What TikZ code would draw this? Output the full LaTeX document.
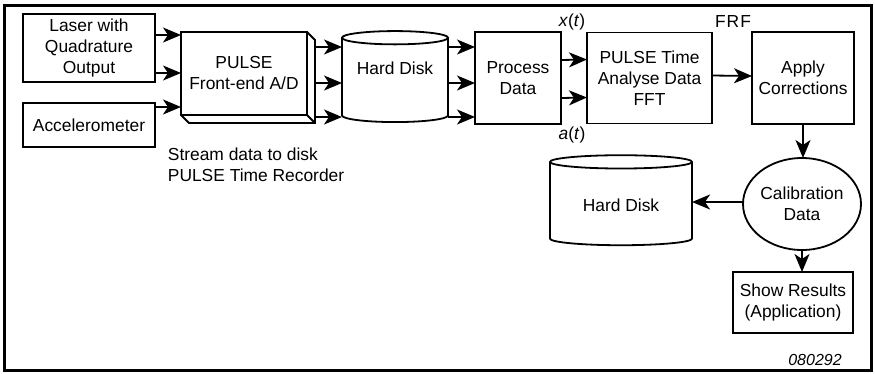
\documentclass[tikz,border=0pt]{standalone}
\usepackage{fontspec}
\setmainfont{Liberation Sans}
\usetikzlibrary{shapes.geometric,arrows.meta}

\begin{document}
\begin{tikzpicture}[x=1pt,y=-1pt,node distance=100pt,line width=1.8pt,
        flow/.style={-{Stealth[length=18pt,width=15pt,inset=5pt]}},
        main node/.style={rectangle,draw,align=center,outer sep=0pt,font=\fontsize{17.4}{21}\selectfont},
        disk node/.style={cylinder,shape border rotate=90,draw,aspect=0.16,outer sep=0pt,align=center,font=\fontsize{17.4}{21}\selectfont},
        text node/.style={inner sep=0pt,font=\fontsize{17.4}{21}\selectfont}]
                \useasboundingbox (0,0) rectangle (875,373);
                \draw[line width=3] (4,5) rectangle (871,370);

                \node [main node, minimum width=132, minimum height=68](1) at (89,48) {Laser with\\Quadrature\\Output};
                \node [main node, minimum width=132, minimum height=44](2) [below of=1, yshift=23]{Accelerometer};
                \node [main node, minimum width=126, minimum height=83](3) [right of=1, xshift=55, yshift=-25.5]{PULSE\\Front-end A/D};
                \draw (3.north east) -- ++(8,8) -- ++(0,83) -- ++(-126,0) -- (3.south west);
                \draw (3.south east) -- ++(8,8);
                \node [disk node, minimum width=106, minimum height=91](4) [right of=3, xshift=51, yshift=-8]{Hard Disk\\[6pt]};
                \node [main node, minimum width=86, minimum height=92](5) [right of=4, xshift=23, yshift=3.5]{Process\\Data};
                \node [main node, minimum width=125, minimum height=91](6) [right of=5, xshift=31.5]{PULSE Time\\Analyse Data\\FFT};
                \node [main node, minimum width=102, minimum height=92](7) [right of=6, xshift=53.5]{Apply\\Corrections};

                \node [ellipse, draw, align=center, outer sep=0pt, inner sep=0pt, minimum width=118, minimum height=92, font=\fontsize{17.4}{21}\selectfont](8) [below of=7, xshift=-1, yshift=-26]{Calibration\\Data};
                \node [disk node, minimum width=142, minimum height=90](9) [left of=8, xshift=-81, yshift=-1]{Hard Disk};
                \node [main node, minimum width=120, minimum height=61](10) [below of=8, xshift=-9, yshift=1.5]{Show Results\\(Application)};

                % labels
                \node [text node](11) at ([xshift=11, yshift=10]5.north east){\textit{x}(\textit{t})};
                \node [text node](12) at ([xshift=11, yshift=-11]5.south east){\textit{a}(\textit{t})};
                \node [text node](13) at ([xshift=-19, yshift=10]7.north west){F\kern1ptR\kern1ptF};
                \node [text node, align=left, anchor=west](14) at ([xshift=144, yshift=-18]2.south west){Stream data to disk\\PULSE Time Recorder};
                \node [text node, font=\fontsize{16}{19}\selectfont\itshape](15) at ([xshift=22, yshift=-27]10.south){080292};

                \path[every edge/.append style={flow}]
                    ([yshift=13]1.east) edge ([yshift=38.5]3.west)
                    ([yshift=-25]1.east) edge ([yshift=0.5]3.west)
                    ([yshift=18]2.east) edge ([yshift=-33.5]3.west)

                    ([xshift=8, yshift=26.5]3.east) edge ([yshift=34.5]4.west)
                    ([xshift=8, yshift=-9.5]3.east) edge ([yshift=-1.5]4.west)
                    ([xshift=8, yshift=-43.5]3.east) edge ([yshift=-35.5]4.west)

                    ([yshift=34.5]4.east) edge ([yshift=31]5.west)
                    ([yshift=-1.5]4.east) edge ([yshift=-5]5.west)
                    ([yshift=-35.5]4.east) edge ([yshift=-39]5.west)

                    ([yshift=18]5.east) edge ([yshift=18.5]6.west)
                    ([yshift=-20]5.east) edge ([yshift=-19.5]6.west)

                    ([yshift=2.5]6.east) edge ([yshift=2]7.west)
                    (7.south) edge (7.south |- 8.north)
                    ([yshift=2]8.west) edge ([yshift=3]9.east)
                    (8.south) edge (8.south |- 10.north)
                    ;
            \end{tikzpicture}
\end{document}
